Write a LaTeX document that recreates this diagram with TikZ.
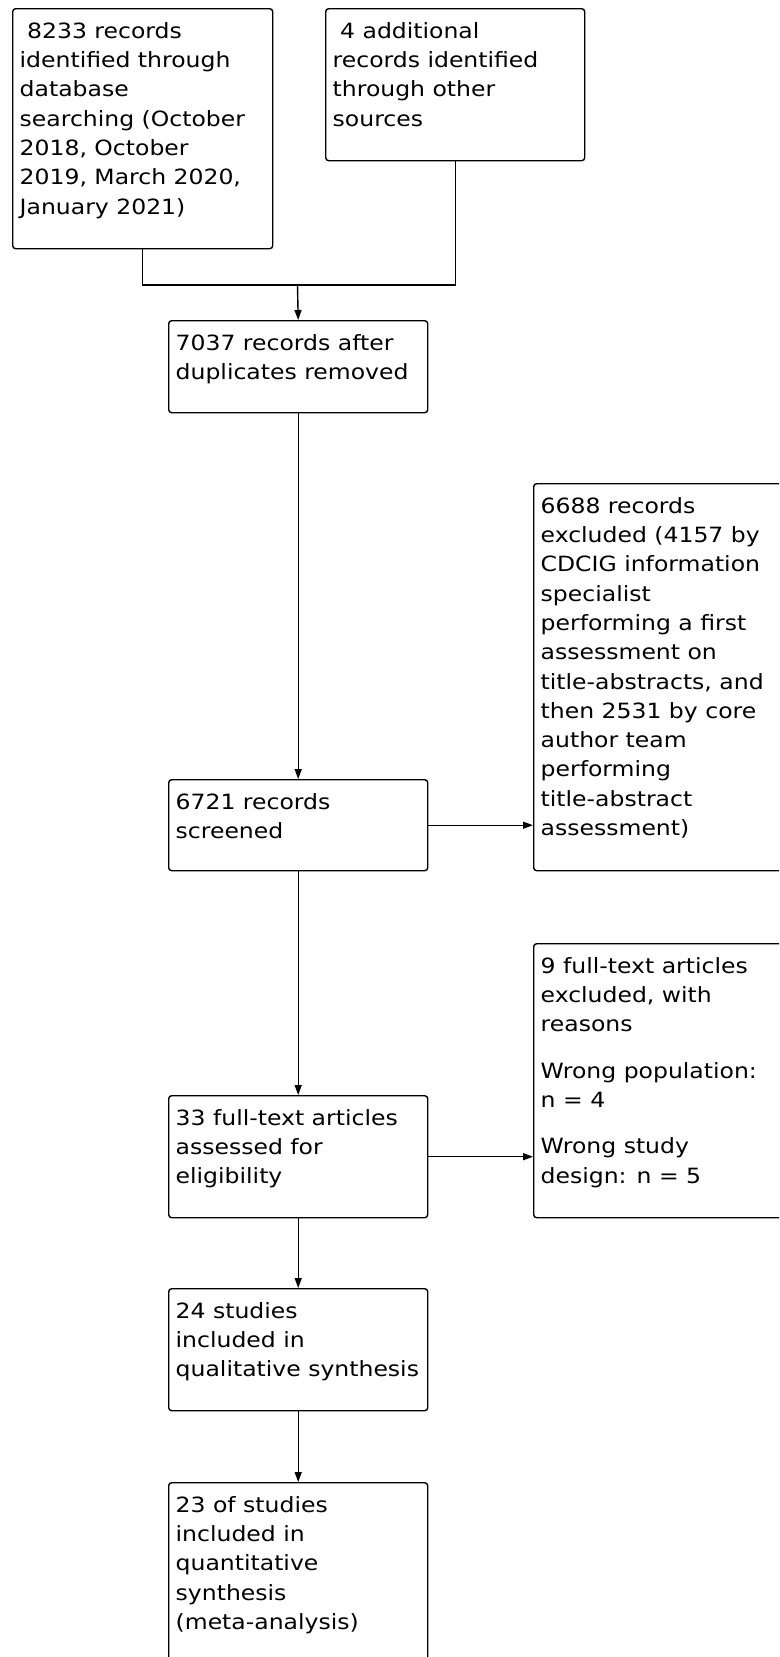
\documentclass[tikz,border=0pt]{standalone}
\usepackage{fontspec}
\setmainfont{DejaVu Sans}[FakeStretch=1.12]
\usetikzlibrary{arrows.meta}
\newcommand{\boxtext}[3]{\parbox[b][#2][t]{#1}{\begin{tabular}[t]{@{}l@{}}#3\end{tabular}}}
\tikzset{
  box/.style={draw,rounded corners=3pt,anchor=north west,inner xsep=7pt,inner ysep=9pt,line width=1.4pt,font=\fontsize{21}{29.3}\selectfont},
  arr/.style={-{Triangle[length=10pt,width=7pt]},line width=1.4pt}
}
\begin{document}
\begin{tikzpicture}[x=1pt,y=-1pt]
\useasboundingbox (0,0) rectangle (779,1657);
\clip (0,0) rectangle (779,1657);
\node[box] (v1) at (12,8) {\boxtext{246pt}{222pt}{~8233 records\\identified through\\database\\searching (October\\2018, October\\2019, March 2020,\\January 2021)}};
\node[box] (v2) at (325,8) {\boxtext{245pt}{134pt}{~4 additional\\records identified\\through other\\sources}};
\node[box] (v3) at (168,320) {\boxtext{245pt}{74pt}{7037 records after\\duplicates removed}};
\node[box] (v4) at (533,483) {\boxtext{243pt}{369pt}{6688 records\\excluded (4157 by\\CDCIG information\\specialist\\performing a first\\assessment on\\title-abstracts, and\\then 2531 by core\\author team\\performing\\title-abstract\\assessment)}};
\node[box] (v5) at (168,779) {\boxtext{245pt}{73pt}{6721 records\\screened}};
\node[box] (v6) at (533,943) {\boxtext{243pt}{256pt}{9 full-text articles\\excluded, with\\reasons\\[17pt]Wrong population:\\n = 4\\[17pt]Wrong study\\design: n = 5}};
\node[box] (v7) at (168,1095) {\boxtext{245pt}{104pt}{33 full-text articles\\assessed for\\eligibility}};
\node[box] (v8) at (168,1288) {\boxtext{245pt}{104pt}{24 studies\\included in\\qualitative synthesis}};
\node[box] (v9) at (168,1482) {\boxtext{245pt}{162pt}{23 of studies\\included in\\quantitative\\synthesis\\(meta-analysis)}};
\coordinate (j) at (297.5,285);

\draw[line width=1.4pt] (v1.south) |- (j) -| (v2.south);
\draw[arr] (j) -- (v3.north);
\draw[arr] (v3) -- (v5);
\draw[arr] (v5.east) -- (v5.east -| v4.west);
\draw[arr] (v5) -- (v7);
\draw[arr] (v7.east) -- (v7.east -| v6.west);
\draw[arr] (v7) -- (v8);
\draw[arr] (v8) -- (v9);
\end{tikzpicture}
\end{document}
